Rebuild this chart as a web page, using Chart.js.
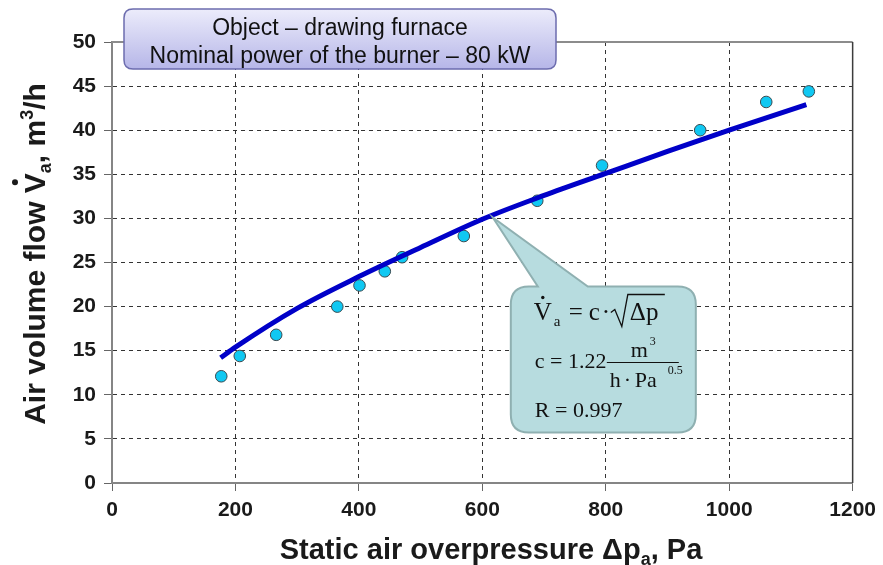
<!DOCTYPE html>
<html>
<head>
<meta charset="utf-8">
<script src="https://cdn.jsdelivr.net/npm/chart.js@4.4.0/dist/chart.umd.min.js"></script>
<style>
	html,body{margin:0;padding:0;background:#fff;}
	#wrap{width:883px;height:565px;}
</style>
</head>
<body>
<div id="wrap"><canvas id="myChart" width="883" height="565"></canvas></div>
<script>
// measured points (Pa, m3/h)
var pressure = [177, 207, 266, 365, 401, 442, 470, 570, 689, 794, 953, 1060, 1129];
var flow = [12.1, 14.4, 16.8, 20.0, 22.4, 24.0, 25.6, 28.0, 32.0, 36.0, 40.0, 43.2, 44.4];
// fitted curve
var fitPressure = [176, 200, 300, 400, 500, 600, 700, 800, 900, 1000, 1125];
var fitFlow = [14.2, 15.4, 19.8, 23.4, 26.7, 29.9, 32.6, 35.1, 37.6, 40.0, 42.9];
// axes
var xTicks = [0, 200, 400, 600, 800, 1000, 1200];
var yTicks = [0, 5, 10, 15, 20, 25, 30, 35, 40, 45, 50];
// texts
var boxLines = ['Object \u2013 drawing furnace', 'Nominal power of the burner \u2013 80 kW'];
var fitC = '1.22';
var fitR = '0.997';

var SANS = '"Liberation Sans", Arial, sans-serif';
var SERIF = '"Liberation Serif", "Times New Roman", serif';

function pts(xs, ys) {
	var out = [];
	for (var i = 0; i < xs.length; i++) out.push({x: xs[i], y: ys[i]});
	return out;
}

// text with sub/superscripts and dot accent
function richText(ctx, parts, x, y) {
	var total = 0;
	parts.forEach(function(p) {
		ctx.font = p.font;
		p.w = ctx.measureText(p.t).width;
		total += p.w;
	});
	var cx = x - total / 2;
	parts.forEach(function(p) {
		ctx.font = p.font;
		ctx.fillText(p.t, cx, y + (p.dy || 0));
		if (p.dot) {
			ctx.beginPath();
			ctx.arc(cx + p.w / 2 + 1, y - p.dot, p.r || 3, 0, Math.PI * 2);
			ctx.fill();
		}
		cx += p.w;
	});
}

function roundRect(ctx, l, t, r, b, rad) {
	ctx.beginPath();
	ctx.moveTo(l + rad, t);
	ctx.lineTo(r - rad, t);
	ctx.quadraticCurveTo(r, t, r, t + rad);
	ctx.lineTo(r, b - rad);
	ctx.quadraticCurveTo(r, b, r - rad, b);
	ctx.lineTo(l + rad, b);
	ctx.quadraticCurveTo(l, b, l, b - rad);
	ctx.lineTo(l, t + rad);
	ctx.quadraticCurveTo(l, t, l + rad, t);
	ctx.closePath();
}

// frame top / right
var framePlugin = {
	id: 'frame',
	beforeDatasetsDraw: function(chart) {
		var ctx = chart.ctx, a = chart.chartArea;
		ctx.save();
		ctx.strokeStyle = '#8c8c8c';
		ctx.lineWidth = 2;
		ctx.beginPath();
		ctx.moveTo(a.left, a.top);
		ctx.lineTo(a.right, a.top);
		ctx.stroke();
		ctx.strokeStyle = '#3c3c3c';
		ctx.lineWidth = 1.5;
		ctx.beginPath();
		ctx.moveTo(a.right, a.top);
		ctx.lineTo(a.right, a.bottom);
		ctx.stroke();
		ctx.restore();
	}
};

// axis titles
var titlePlugin = {
	id: 'titles',
	afterDraw: function(chart) {
		var ctx = chart.ctx;
		var big = 'bold 29px ' + SANS, small = 'bold 18px ' + SANS;
		var bigY = 'bold 30px ' + SANS;
		ctx.save();
		ctx.fillStyle = '#1a1a1a';
		ctx.textBaseline = 'alphabetic';
		ctx.textAlign = 'left';
		richText(ctx, [
			{t: 'Static air overpressure \u0394p', font: big},
			{t: 'a', font: small, dy: 6},
			{t: ', Pa', font: big}
		], 491, 559);
		ctx.translate(45, 254);
		ctx.rotate(-Math.PI / 2);
		richText(ctx, [
			{t: 'Air volume flow ', font: bigY},
			{t: 'V', font: bigY, dot: 30, r: 3},
			{t: 'a', font: small, dy: 6},
			{t: ', m', font: bigY},
			{t: '3', font: small, dy: -12},
			{t: '/h', font: bigY}
		], 0, 0);
		ctx.restore();
	}
};

// callout with the fit formula
var callout = {tipX: 617, tipY: 30.1};
var calloutPlugin = {
	id: 'callout',
	afterDatasetsDraw: function(chart) {
		var ctx = chart.ctx;
		var tx = chart.scales.x.getPixelForValue(callout.tipX);
		var ty = chart.scales.y.getPixelForValue(callout.tipY);
		var l = tx + 18, t = ty + 69, r = l + 185, b = t + 146, rad = 18;
		var b1 = tx + 45, b2 = tx + 95;
		ctx.save();
		ctx.beginPath();
		ctx.moveTo(l + rad, t);
		ctx.lineTo(b1, t);
		ctx.lineTo(tx, ty);
		ctx.lineTo(b2, t);
		ctx.lineTo(r - rad, t);
		ctx.quadraticCurveTo(r, t, r, t + rad);
		ctx.lineTo(r, b - rad);
		ctx.quadraticCurveTo(r, b, r - rad, b);
		ctx.lineTo(l + rad, b);
		ctx.quadraticCurveTo(l, b, l, b - rad);
		ctx.lineTo(l, t + rad);
		ctx.quadraticCurveTo(l, t, l + rad, t);
		ctx.closePath();
		ctx.fillStyle = '#b7dcdf';
		ctx.fill();
		ctx.strokeStyle = '#8fb0b1';
		ctx.lineWidth = 2;
		ctx.stroke();

		var f1 = '25px ' + SERIF, f = '22px ' + SERIF, fs = '15px ' + SERIF, fx = '12px ' + SERIF;
		ctx.fillStyle = '#111';
		ctx.strokeStyle = '#111';
		ctx.textAlign = 'left';
		ctx.textBaseline = 'alphabetic';
		// V = c * sqrt(dp)
		ctx.font = f1;
		ctx.fillText('V', l + 23, t + 33);
		ctx.beginPath();
		ctx.arc(l + 32, t + 11, 1.7, 0, Math.PI * 2);
		ctx.fill();
		ctx.font = fs;
		ctx.fillText('a', l + 43, t + 39);
		ctx.font = f1;
		ctx.fillText('=', l + 58, t + 33);
		ctx.fillText('c', l + 78, t + 33);
		ctx.fillText('\u00b7', l + 91, t + 33);
		ctx.lineWidth = 1.3;
		ctx.beginPath();
		ctx.moveTo(l + 100, t + 26);
		ctx.lineTo(l + 104, t + 23);
		ctx.lineTo(l + 111, t + 40);
		ctx.lineTo(l + 117, t + 8);
		ctx.lineTo(l + 154, t + 8);
		ctx.stroke();
		ctx.fillText('\u0394p', l + 119, t + 33);
		// c = 1.22 m3 / (h Pa^0.5)
		ctx.font = f;
		ctx.fillText('c = ' + fitC, l + 24, t + 81);
		ctx.fillText('m', l + 120, t + 70);
		ctx.font = fx;
		ctx.fillText('3', l + 139, t + 58);
		ctx.lineWidth = 1.2;
		ctx.beginPath();
		ctx.moveTo(l + 96, t + 76);
		ctx.lineTo(l + 168, t + 76);
		ctx.stroke();
		ctx.font = f;
		ctx.fillText('h', l + 99, t + 100);
		ctx.fillText('\u00b7', l + 113, t + 100);
		ctx.fillText('Pa', l + 124, t + 100);
		ctx.font = fx;
		ctx.fillText('0.5', l + 157, t + 87);
		ctx.font = f;
		ctx.fillText('R = ' + fitR, l + 24, t + 130);
		ctx.restore();
	}
};

// header box
var headerPlugin = {
	id: 'header',
	afterDraw: function(chart) {
		var ctx = chart.ctx;
		var l = 124, t = 9, r = 556, b = 69;
		ctx.save();
		var g = ctx.createLinearGradient(0, t, 0, b);
		g.addColorStop(0, '#ececfb');
		g.addColorStop(1, '#b6b6e8');
		roundRect(ctx, l, t, r, b, 9);
		ctx.fillStyle = g;
		ctx.fill();
		ctx.strokeStyle = '#6c6cae';
		ctx.lineWidth = 1.5;
		ctx.stroke();
		ctx.fillStyle = '#111';
		ctx.font = '23px ' + SANS;
		ctx.textAlign = 'center';
		ctx.textBaseline = 'alphabetic';
		ctx.fillText(boxLines[0], (l + r) / 2, 35);
		ctx.fillText(boxLines[1], (l + r) / 2, 63);
		ctx.restore();
	}
};

function gridColor(c) {
	var v = c.tick ? c.tick.value : null;
	if (v === 0 || v === 1200 || v === 50) return 'rgba(0,0,0,0)';
	return '#333';
}

function plainTick(v) { return String(v); }

var myChart = new Chart(document.getElementById('myChart'), {
	type: 'scatter',
	data: {
		datasets: [{
			label: 'fit',
			data: pts(fitPressure, fitFlow),
			showLine: true,
			borderColor: '#0000c8',
			borderWidth: 5,
			pointRadius: 0,
			cubicInterpolationMode: 'monotone',
			fill: false
		}, {
			label: 'measured',
			data: pts(pressure, flow),
			pointRadius: 5.8,
			pointBackgroundColor: '#10c8f2',
			pointBorderColor: '#3a4a50',
			pointBorderWidth: 1
		}]
	},
	options: {
		responsive: false,
		animation: false,
		devicePixelRatio: 1,
		layout: {padding: {left: 0, top: 42, right: 26, bottom: 0}},
		plugins: {legend: {display: false}, tooltip: {enabled: false}},
		scales: {
			x: {
				type: 'linear',
				min: 0, max: 1200,
				afterBuildTicks: function(s) { s.ticks = xTicks.map(function(v) { return {value: v}; }); },
				afterFit: function(s) { s.height = 82; },
				grid: {color: gridColor, lineWidth: 1, tickLength: 8, tickColor: '#666', drawTicks: true},
				border: {display: true, color: '#858585', width: 2, dash: [4, 4]},
				ticks: {color: '#1a1a1a', font: {family: SANS, size: 21, weight: 'bold'}, padding: 7, maxRotation: 0, callback: plainTick}
			},
			y: {
				type: 'linear',
				min: 0, max: 50,
				afterBuildTicks: function(s) { s.ticks = yTicks.map(function(v) { return {value: v}; }); },
				afterFit: function(s) { s.width = 112; },
				grid: {color: gridColor, lineWidth: 1, tickLength: 8, tickColor: '#666', drawTicks: true},
				border: {display: true, color: '#858585', width: 2, dash: [4, 4]},
				ticks: {color: '#1a1a1a', font: {family: SANS, size: 21, weight: 'bold'}, padding: 8, callback: plainTick}
			}
		}
	},
	plugins: [framePlugin, calloutPlugin, titlePlugin, headerPlugin]
});
</script>
</body>
</html>
